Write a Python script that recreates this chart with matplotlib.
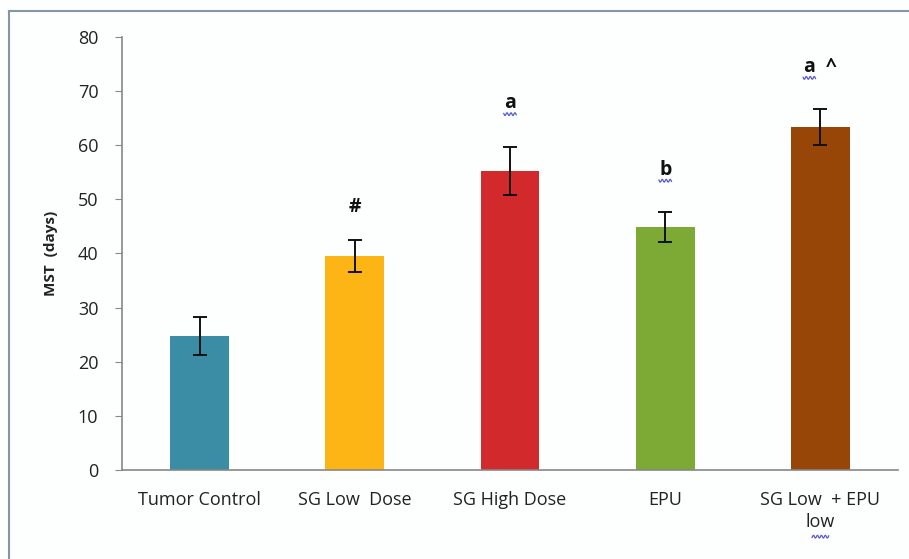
import matplotlib.pyplot as plt
from matplotlib.lines import Line2D
import numpy as np

# group means and spread for median survival time
groups = ['Tumor Control', 'SG Low  Dose', 'SG High Dose', 'EPU', 'SG Low  + EPU\nlow']
mst = [24.7, 39.5, 55.2, 44.9, 63.4]
err = [3.5, 3.0, 4.4, 2.7, 3.3]
marks = ['', '#', 'a', 'b', 'a  ^']
mark_gap = [0, 6.0, 8.2, 7.9, 7.8]
colors = ['#3A8DA5', '#FDB515', '#D2292D', '#7DAA34', '#974607']

plt.rcParams['font.family'] = ['Open Sans', 'DejaVu Sans']

fig = plt.figure(figsize=(9.09, 5.59), dpi=100)
fig.patch.set_facecolor('#fdfefe')

# thin panel border along top and left
fig.add_artist(Line2D([9/909, 9/909], [0, 1 - 11/559], color='#8596a8', lw=1.5, transform=fig.transFigure))
fig.add_artist(Line2D([9/909, 1], [1 - 11/559, 1 - 11/559], color='#8596a8', lw=1.5, transform=fig.transFigure))

ax = fig.add_axes([122/909, 1 - 470/559, 776/909, 433/559])
ax.set_facecolor('none')

x = np.arange(len(groups))
ax.bar(x, mst, width=0.38, color=colors, zorder=2)
ax.errorbar(x, mst, yerr=err, fmt='none', ecolor='#111111', elinewidth=1.4,
            capsize=5, capthick=1.4, zorder=3)

ax.set_xlim(-0.5, 4.5)
ax.set_ylim(0, 80)
ax.set_yticks(range(0, 81, 10))
ax.set_xticks(x)
ax.set_xticklabels(groups, fontsize=13, color='#222222', linespacing=1.3)
ax.tick_params(axis='x', length=0, pad=15)
ax.tick_params(axis='y', length=5, color='#888888', labelsize=13, labelcolor='#222222', pad=12)
ax.set_ylabel('MST  (days)', fontsize=11, fontweight='bold', color='#222222', labelpad=14)

for s in ['top', 'right']:
    ax.spines[s].set_visible(False)
for s in ['left', 'bottom']:
    ax.spines[s].set_color('#888888')
    ax.spines[s].set_linewidth(1.2)


# small blue squiggle under a letter, offsets in points
def squiggle(xc, yc, dx=0.0, dy=-8.0, half=4.5):
    scale = fig.dpi / 72.0
    t = np.linspace(-half, half, 40)
    base = ax.transData.transform((xc, yc))
    px = base[0] + (t + dx) * scale
    py = base[1] + (np.sin(t * 2.2) + dy) * scale
    fig.add_artist(Line2D(px, py, transform=None, color='#5a5ad0', lw=0.9))


# significance markers above the bars
for xi, m, g, top in zip(x, marks, mark_gap, np.array(mst) + np.array(err)):
    if not m:
        continue
    ax.text(xi, top + g, m, ha='center', va='center', fontsize=14,
            fontweight='bold', color='#111111')
    if m in ('a', 'b'):
        squiggle(xi, top + g)
    elif m.startswith('a'):
        squiggle(xi, top + g, dx=-8)

# squiggle under the wrapped word of the last label
squiggle(4, 0, dy=-48, half=6)

fig.savefig('out.png', dpi=100, facecolor=fig.get_facecolor())
